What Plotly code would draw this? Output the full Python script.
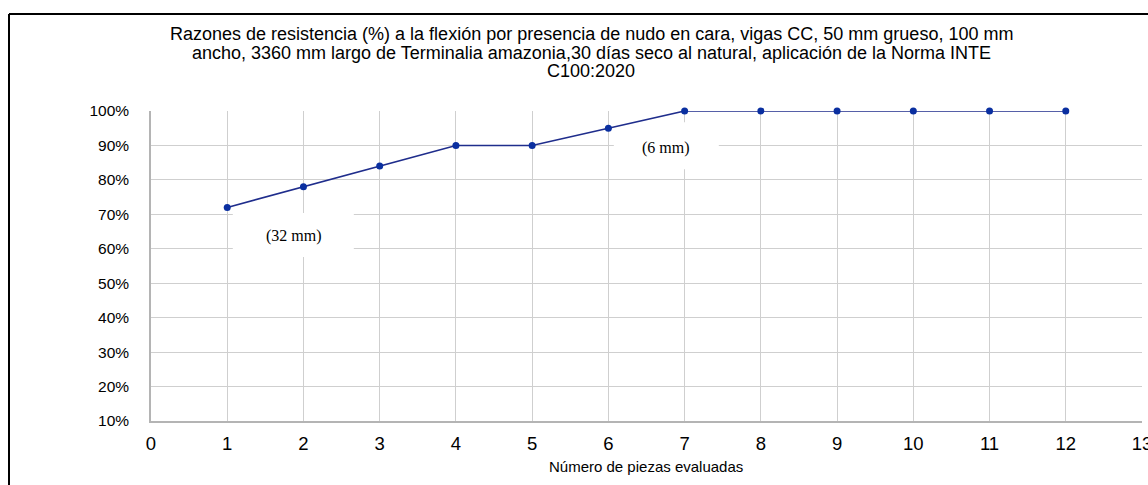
import plotly.graph_objects as go

# Piece number and strength ratio (fraction) for each evaluated beam
piezas = [1, 2, 3, 4, 5, 6, 7, 8, 9, 10, 11, 12]
razones = [0.72, 0.78, 0.84, 0.90, 0.90, 0.95, 1.00, 1.00, 1.00, 1.00, 1.00, 1.00]

x_ticks = list(range(0, 14))
y_ticks = [0.1, 0.2, 0.3, 0.4, 0.5, 0.6, 0.7, 0.8, 0.9, 1.0]

titulo = [
    "Razones de resistencia (%) a la flexión por presencia de nudo en cara, vigas CC, 50 mm grueso, 100 mm",
    "ancho, 3360 mm largo de Terminalia amazonia,30 días seco al natural, aplicación de la Norma INTE",
    "C100:2020",
]
eje_x = "Número de piezas evaluadas"

# Knot-size labels placed on the chart
etiquetas = ["(32 mm)", "(6 mm)"]
etiqueta_x = [1.88, 6.76]
etiqueta_y = [0.637, 0.893]

W, H = 1148, 485
L, R, T, B = 151, 6, 111, 64
pw, ph = W - L - R, H - T - B


def px_to_paper(px, py):
    return (px - L) / pw, (H - B - py) / ph


fig = go.Figure()
fig.add_trace(go.Scatter(
    x=piezas, y=razones, mode="lines+markers",
    line=dict(color="#1f2d8c", width=1.6),
    marker=dict(color="#0a2fa0", size=7),
    cliponaxis=False, showlegend=False,
))

# White label boxes sit above the grid but below the data line
box_w = [121, 105]
box_h = [44, 47]
box_dx = [-1, 0]
box_dy = [-1, -2]
for txt, xx, yy, w, h, dx, dy in zip(etiquetas, etiqueta_x, etiqueta_y, box_w, box_h, box_dx, box_dy):
    fig.add_shape(
        type="rect", xref="x", yref="y", xsizemode="pixel", ysizemode="pixel",
        xanchor=xx, yanchor=yy,
        x0=dx - w / 2, x1=dx + w / 2, y0=-dy - h / 2, y1=-dy + h / 2,
        fillcolor="#ffffff", line=dict(width=0), layer="between",
    )
    fig.add_annotation(
        x=xx, y=yy, text=txt, showarrow=False,
        font=dict(family="Liberation Serif", size=16, color="#000000"),
    )

# Outer chart frame (left and top edges visible)
x0, y0 = px_to_paper(9, 14)
_, ybot = px_to_paper(9, 500)
fig.add_shape(type="line", xref="paper", yref="paper", x0=x0, x1=x0, y0=ybot, y1=y0,
              line=dict(color="#000000", width=2))
fig.add_shape(type="line", xref="paper", yref="paper", x0=x0, x1=1.05, y0=y0, y1=y0,
              line=dict(color="#000000", width=2))

# Title lines
for linea, py in zip(titulo, [34, 52.5, 71]):
    tx, ty = px_to_paper(591, py)
    fig.add_annotation(
        x=tx, y=ty, xref="paper", yref="paper", text=linea, showarrow=False,
        xanchor="center", yanchor="middle",
        font=dict(family="Liberation Sans", size=18, color="#000000"),
    )

# X axis title
ax, ay = px_to_paper(646, 466)
fig.add_annotation(
    x=ax, y=ay, xref="paper", yref="paper", text=eje_x, showarrow=False,
    xanchor="center", yanchor="middle",
    font=dict(family="Liberation Sans", size=15, color="#000000"),
)

fig.update_layout(
    width=W, height=H,
    margin=dict(l=L, r=R, t=T, b=B, autoexpand=False),
    paper_bgcolor="#ffffff", plot_bgcolor="#ffffff",
    font=dict(family="Liberation Sans", color="#000000"),
    xaxis=dict(
        range=[0, 13], tickvals=x_ticks, showgrid=True, gridcolor="#cfcfcf", gridwidth=1,
        showline=True, linecolor="#b4b4b4", linewidth=1.5, zeroline=False,
        ticks="", ticklabelstandoff=5, ticklabeloverflow="allow", automargin=False,
        tickfont=dict(size=18.5, color="#000000"),
    ),
    yaxis=dict(
        range=[0.1, 1.0], tickvals=y_ticks, tickformat=".0%", showgrid=True,
        gridcolor="#cfcfcf", gridwidth=1, showline=True, linecolor="#b4b4b4", linewidth=1.5,
        zeroline=False, ticks="", ticklabelstandoff=17, automargin=False,
        tickfont=dict(size=15.5, color="#000000"),
    ),
)

fig.write_html("out.html")
